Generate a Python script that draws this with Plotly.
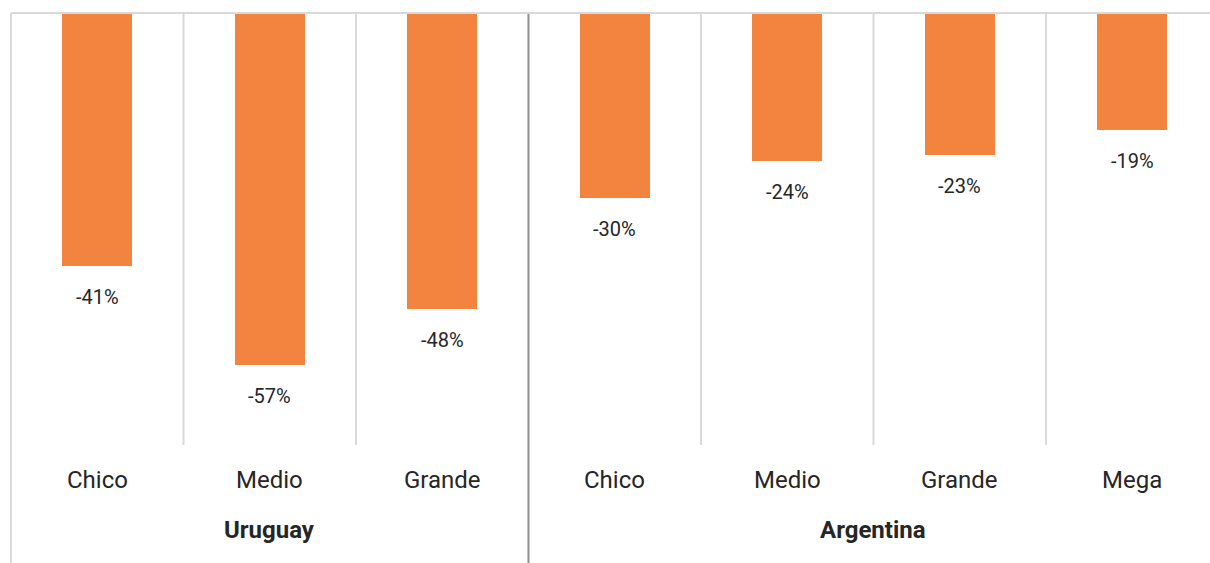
import plotly.graph_objects as go

# Variation by company size, grouped by country
categories = ["Chico", "Medio", "Grande", "Chico", "Medio", "Grande", "Mega"]
values = [-41, -57, -48, -30, -24, -23, -19]
groups = ["Uruguay", "Argentina"]
group_sizes = [3, 4]

BAR_COLOR = "#F28440"
TEXT_COLOR = "#262626"
GRID_LIGHT = "#D9D9D9"
GRID_DARK = "#8C9090"
FONT = "Roboto"

positions = list(range(len(categories)))

fig = go.Figure(
    go.Bar(
        x=positions,
        y=values,
        width=0.405,
        marker=dict(color=BAR_COLOR, line=dict(width=0)),
        hoverinfo="skip",
    )
)

annotations = []
# value labels under each bar end
for p, v in zip(positions, values):
    annotations.append(dict(
        x=p, y=v, xref="x", yref="y", text=f"{v}%", showarrow=False,
        yshift=-31, yanchor="middle",
        font=dict(family=FONT, size=20, color=TEXT_COLOR),
    ))
# category labels
for p, c in zip(positions, categories):
    annotations.append(dict(
        x=p, y=0, xref="x", yref="paper", text=c, showarrow=False,
        yshift=-35, yanchor="middle",
        font=dict(family=FONT, size=24, color=TEXT_COLOR),
    ))

shapes = []
# group labels and separators
start = 0
n_total = len(categories)
for gi, (g, n) in enumerate(zip(groups, group_sizes)):
    end = start + n
    center = (start - 0.5 + end - 0.5) / 2
    annotations.append(dict(
        x=center, y=0, xref="x", yref="paper", text=f"<b>{g}</b>",
        showarrow=False, yshift=-85, yanchor="middle",
        font=dict(family=FONT, size=24, color=TEXT_COLOR),
    ))
    for k in range(start + 1, end):
        shapes.append(dict(
            type="line", xref="x", yref="paper",
            x0=k - 0.5, x1=k - 0.5, y0=0, y1=1,
            line=dict(color=GRID_LIGHT, width=2),
        ))
    if end < n_total:
        shapes.append(dict(
            type="line", xref="x", yref="paper",
            x0=end - 0.5, x1=end - 0.5, y0=-0.3, y1=1,
            line=dict(color=GRID_DARK, width=2),
        ))
    start = end

# left border and zero line
shapes.append(dict(type="line", xref="paper", yref="paper",
                   x0=0, x1=0, y0=-0.3, y1=1,
                   line=dict(color=GRID_LIGHT, width=2)))
shapes.append(dict(type="line", xref="paper", yref="paper",
                   x0=0, x1=1.01, y0=1, y1=1,
                   line=dict(color=GRID_LIGHT, width=2)))

fig.update_layout(
    width=1210, height=563,
    margin=dict(l=11, r=0, t=13, b=118),
    paper_bgcolor="white", plot_bgcolor="white",
    showlegend=False,
    xaxis=dict(range=[-0.5, 6.451], visible=False, fixedrange=True),
    yaxis=dict(range=[-70, 0], visible=False, fixedrange=True),
    annotations=annotations,
    shapes=shapes,
    bargap=0,
)

fig.write_html("out.html", config={"displayModeBar": False})
